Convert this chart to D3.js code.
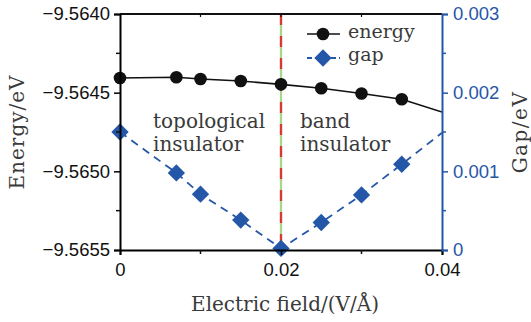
<!DOCTYPE html>
<html><head><meta charset="utf-8">
<script src="https://cdn.jsdelivr.net/npm/d3@7"></script>
<style>body{margin:0;background:#fff}svg{display:block}</style>
</head><body>
<script>
const fields = [0, 0.007, 0.01, 0.015, 0.02, 0.025, 0.03, 0.035];
const energy = [-9.564407, -9.564402, -9.564413, -9.564426, -9.564447, -9.564472, -9.564505, -9.564542];
const gap = [0.0015, 0.00098, 0.00071, 0.00038, 0.00002, 0.00035, 0.0007, 0.00109];
// line continuation beyond the last marker (clipped at plot edge)
const energyTailField = [0.035, 0.04];
const energyTail = [-9.564542, -9.564623];
const gapTailField = [0.035, 0.04];
const gapTail = [0.00109, 0.00149];
const xTicks = [0, 0.02, 0.04];
const xTickLabels = ["0", "0.02", "0.04"];
const yTicks = [-9.5640, -9.5645, -9.5650, -9.5655];
const yTickLabels = ["\u22129.5640", "\u22129.5645", "\u22129.5650", "\u22129.5655"];
const gTicks = [0, 0.001, 0.002, 0.003];
const gTickLabels = ["0", "0.001", "0.002", "0.003"];
const transitionField = 0.02;

const W = 531, H = 322;
const m = {l:120, r:89, t:14, b:72};
const blue = "#2457a7";
const svg = d3.select("body").append("svg").attr("width", W).attr("height", H);
const x = d3.scaleLinear().domain([0, 0.04]).range([m.l, W - m.r]);
const y = d3.scaleLinear().domain([-9.5655, -9.5640]).range([H - m.b, m.t]);
const yg = d3.scaleLinear().domain([0, 0.003]).range([H - m.b, m.t]);

svg.append("defs").append("clipPath").attr("id","clip")
  .append("rect").attr("x", m.l).attr("y", m.t).attr("width", x(0.04)-m.l).attr("height", y(-9.5655)-m.t);

const sans = "'Liberation Sans', Arial, sans-serif";
const serif = "'DejaVu Serif', serif";
const txt = "#3a3a3a";
const fs = 20;

// vertical transition line
svg.append("line").attr("x1", x(transitionField)).attr("x2", x(transitionField))
  .attr("y1", m.t).attr("y2", y(-9.5655)).attr("stroke", "#a8d68f").attr("stroke-width", 2.3);
svg.append("line").attr("x1", x(transitionField)).attr("x2", x(transitionField))
  .attr("y1", m.t).attr("y2", y(-9.5655)).attr("stroke", "#d9373a").attr("stroke-width", 2.3)
  .attr("stroke-dasharray", "11,11");

// lines
const plot = svg.append("g").attr("clip-path", "url(#clip)");
const gapLine = d3.line().x(d => x(d[0])).y(d => yg(d[1]));
plot.append("path").datum(fields.map((f,i)=>[f,gap[i]]).concat([[gapTailField[1], gapTail[1]]]))
  .attr("d", gapLine).attr("fill","none").attr("stroke", blue).attr("stroke-width", 1.8)
  .attr("stroke-dasharray", "8,6");
const enLine = d3.line().x(d => x(d[0])).y(d => y(d[1]));
plot.append("path").datum(fields.map((f,i)=>[f,energy[i]]).concat([[energyTailField[1], energyTail[1]]]))
  .attr("d", enLine).attr("fill","none").attr("stroke", "#111").attr("stroke-width", 1.6);

// markers
const diamond = d3.symbol().type(d3.symbolSquare).size(150);
svg.append("g").selectAll("path").data(fields).join("path")
  .attr("d", diamond)
  .attr("transform", (d,i) => `translate(${x(d)},${yg(gap[i])}) rotate(45)`)
  .attr("fill", blue);
svg.append("g").selectAll("circle").data(fields).join("circle")
  .attr("cx", d => x(d)).attr("cy", (d,i) => y(energy[i])).attr("r", 6.3).attr("fill", "#111");

// axes
const bottomAxis = d3.axisBottom(x).tickValues(xTicks).tickFormat((d,i)=>xTickLabels[i]).tickSize(5).tickPadding(8);
const gb = svg.append("g").attr("transform", `translate(0,${y(-9.5655)})`).call(bottomAxis);
gb.selectAll(".tick line").attr("stroke-width", 1.5);
gb.append("g").selectAll("line").data([0.01, 0.03]).join("line")
  .attr("x1", d=>x(d)).attr("x2", d=>x(d)).attr("y1",0).attr("y2",4).attr("stroke","#111").attr("stroke-width",1.5);
// top border ticks
const gt = svg.append("g");
gt.append("line").attr("x1", m.l).attr("x2", x(0.04)).attr("y1", m.t).attr("y2", m.t).attr("stroke","#111").attr("stroke-width",2);
gt.selectAll("line.t").data([0.01, 0.02, 0.03]).join("line").attr("class","t")
  .attr("x1", d=>x(d)).attr("x2", d=>x(d)).attr("y1", m.t).attr("y2", m.t+3).attr("stroke","#111").attr("stroke-width",1.2);

const leftAxis = d3.axisLeft(y).tickValues(yTicks).tickFormat((d,i)=>yTickLabels[i]).tickSize(6).tickPadding(4);
const gl = svg.append("g").attr("transform", `translate(${m.l},0)`).call(leftAxis);
gl.append("g").selectAll("line").data([-9.56425, -9.56475, -9.56525]).join("line")
  .attr("x1",-4).attr("x2",0).attr("y1",d=>y(d)).attr("y2",d=>y(d)).attr("stroke","#111").attr("stroke-width",1.5);
gl.selectAll(".tick line").attr("stroke-width", 1.5);

const rightAxis = d3.axisRight(yg).tickValues(gTicks).tickFormat((d,i)=>gTickLabels[i]).tickSize(6).tickPadding(5);
const gr = svg.append("g").attr("transform", `translate(${x(0.04)},0)`).call(rightAxis);
gr.append("g").selectAll("line").data([0.0005, 0.0015, 0.0025]).join("line")
  .attr("x1",0).attr("x2",4).attr("y1",d=>yg(d)).attr("y2",d=>yg(d)).attr("stroke",blue).attr("stroke-width",1.5);
gr.selectAll(".tick line").attr("stroke", blue).attr("stroke-width", 1.5);
gr.select(".domain").attr("stroke", blue).attr("stroke-width", 2);
gr.selectAll(".tick text").attr("fill", blue);

[gb, gl, gr].forEach(g => {
  g.selectAll(".tick text").attr("font-family", sans).attr("font-size", 18.5);
});
gb.select(".domain").attr("stroke-width", 2);
gl.select(".domain").attr("stroke-width", 2);
gb.selectAll(".tick text").attr("fill", "#111");
gl.selectAll(".tick text").attr("fill", "#111");

// axis titles
svg.append("text").attr("x", 285).attr("y", 311).attr("text-anchor","middle")
  .attr("font-family", serif).attr("font-size", fs).attr("fill",txt).text("Electric field/(V/Å)");
svg.append("text").attr("transform", `translate(24,${(m.t + y(-9.5655))/2}) rotate(-90)`).attr("text-anchor","middle")
  .attr("font-family", serif).attr("font-size", fs).attr("fill",txt).attr("letter-spacing", 1).text("Energy/eV");
svg.append("text").attr("transform", `translate(527,${(m.t + y(-9.5655))/2}) rotate(-90)`).attr("text-anchor","middle")
  .attr("font-family", serif).attr("font-size", fs).attr("fill",txt).attr("letter-spacing", 1.5).text("Gap/eV");

// annotations
const ann = [["topological", 153, 128], ["insulator", 153, 151], ["band", 300, 128], ["insulator", 300, 151]];
svg.append("g").selectAll("text").data(ann).join("text")
  .attr("x", d=>d[1]).attr("y", d=>d[2]).attr("font-family", serif).attr("font-size", fs).attr("fill",txt)
  .text(d=>d[0]);

// legend
const lg = svg.append("g");
lg.append("line").attr("x1",307).attr("x2",340).attr("y1",34).attr("y2",34).attr("stroke","#111").attr("stroke-width",1.6);
lg.append("circle").attr("cx",323).attr("cy",34).attr("r",6.3).attr("fill","#111");
lg.append("line").attr("x1",307).attr("x2",340).attr("y1",58).attr("y2",58).attr("stroke",blue).attr("stroke-width",1.8).attr("stroke-dasharray","5,3");
lg.append("path").attr("d", diamond).attr("transform","translate(323,58) rotate(45)").attr("fill",blue);
lg.append("text").attr("x",348).attr("y",38).attr("font-family",serif).attr("font-size",19).attr("fill",txt).text("energy");
lg.append("text").attr("x",348).attr("y",61).attr("font-family",serif).attr("font-size",19).attr("fill",txt).text("gap");
</script>
</body></html>
